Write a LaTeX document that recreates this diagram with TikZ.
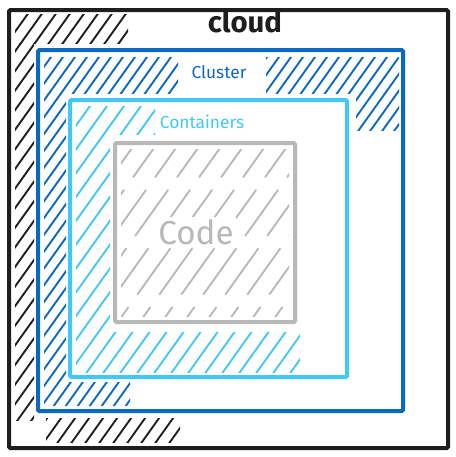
\documentclass[tikz,border=0pt]{standalone}
\usepackage{fontspec}
\setmainfont{Fira Sans}
\usetikzlibrary{positioning}
\definecolor{inkblack}{HTML}{1E1E1E}
\definecolor{clusterblue}{HTML}{0A68C0}
\definecolor{containerblue}{HTML}{42C8F5}
\definecolor{codegray}{HTML}{B8B8B8}

% steep hachure clipped to a rectangle: style, spacing, x1, y1, x2, y2
\newcommand{\hatchzone}[6]{%
  \begin{scope}
    \clip (#3,#4) rectangle (#5,#6);
    \foreach \k in {0,#2,...,820}
      \draw[#1] (\k-340,470) -- ++(340,-476);
  \end{scope}}

\begin{document}
\begin{tikzpicture}[x=0.75pt, y=-0.75pt,
    frame/.style={line width=3pt, rounded corners=1pt},
    hatch/.style={line width=1.4pt, line cap=round},
    lbl/.style={inner sep=0pt, font=\fontsize{13}{15}\selectfont}]
  \useasboundingbox (0,0) rectangle (455,457);

  % cloud
  \hatchzone{hatch, inkblack}{14}{15}{14}{128}{43}
  \hatchzone{hatch, inkblack}{14}{15}{43}{34}{420}
  \hatchzone{hatch, inkblack}{14}{46}{418}{180}{442}
  \draw[frame, inkblack] (9,10) rectangle (448,448);
  \node[lbl, inkblack, font=\fontsize{22}{24}\selectfont\bfseries] (cloud) at (245,22) {cloud};

  % cluster
  \hatchzone{hatch, clusterblue}{12}{44}{57}{178}{93}
  \hatchzone{hatch, clusterblue}{12}{266}{57}{399}{93}
  \hatchzone{hatch, clusterblue}{12}{356}{93}{399}{130}
  \hatchzone{hatch, clusterblue}{12}{44}{93}{66}{405}
  \hatchzone{hatch, clusterblue}{12}{66}{382}{130}{405}
  \draw[frame, clusterblue] (38,50) rectangle (403,411);
  \node[lbl, clusterblue] (cluster) at (219,72) {Cluster};

  % containers
  \hatchzone{hatch, containerblue}{17}{76}{106}{155}{134}
  \hatchzone{hatch, containerblue}{17}{76}{134}{110}{372}
  \hatchzone{hatch, containerblue}{17}{110}{332}{300}{372}
  \draw[frame, containerblue] (70,100) rectangle (347,377);
  \node[lbl, containerblue] (containers) at (202,122) {Containers};

  % code
  \hatchzone{hatch, codegray, dash pattern=on 42pt off 12pt}{22}{121}{149}{289}{316}
  \draw[frame, codegray] (115,143) rectangle (295,322);
  \node[lbl, codegray, fill=white, inner sep=2pt, font=\Huge] (code) at (196,232) {Code};
\end{tikzpicture}
\end{document}
